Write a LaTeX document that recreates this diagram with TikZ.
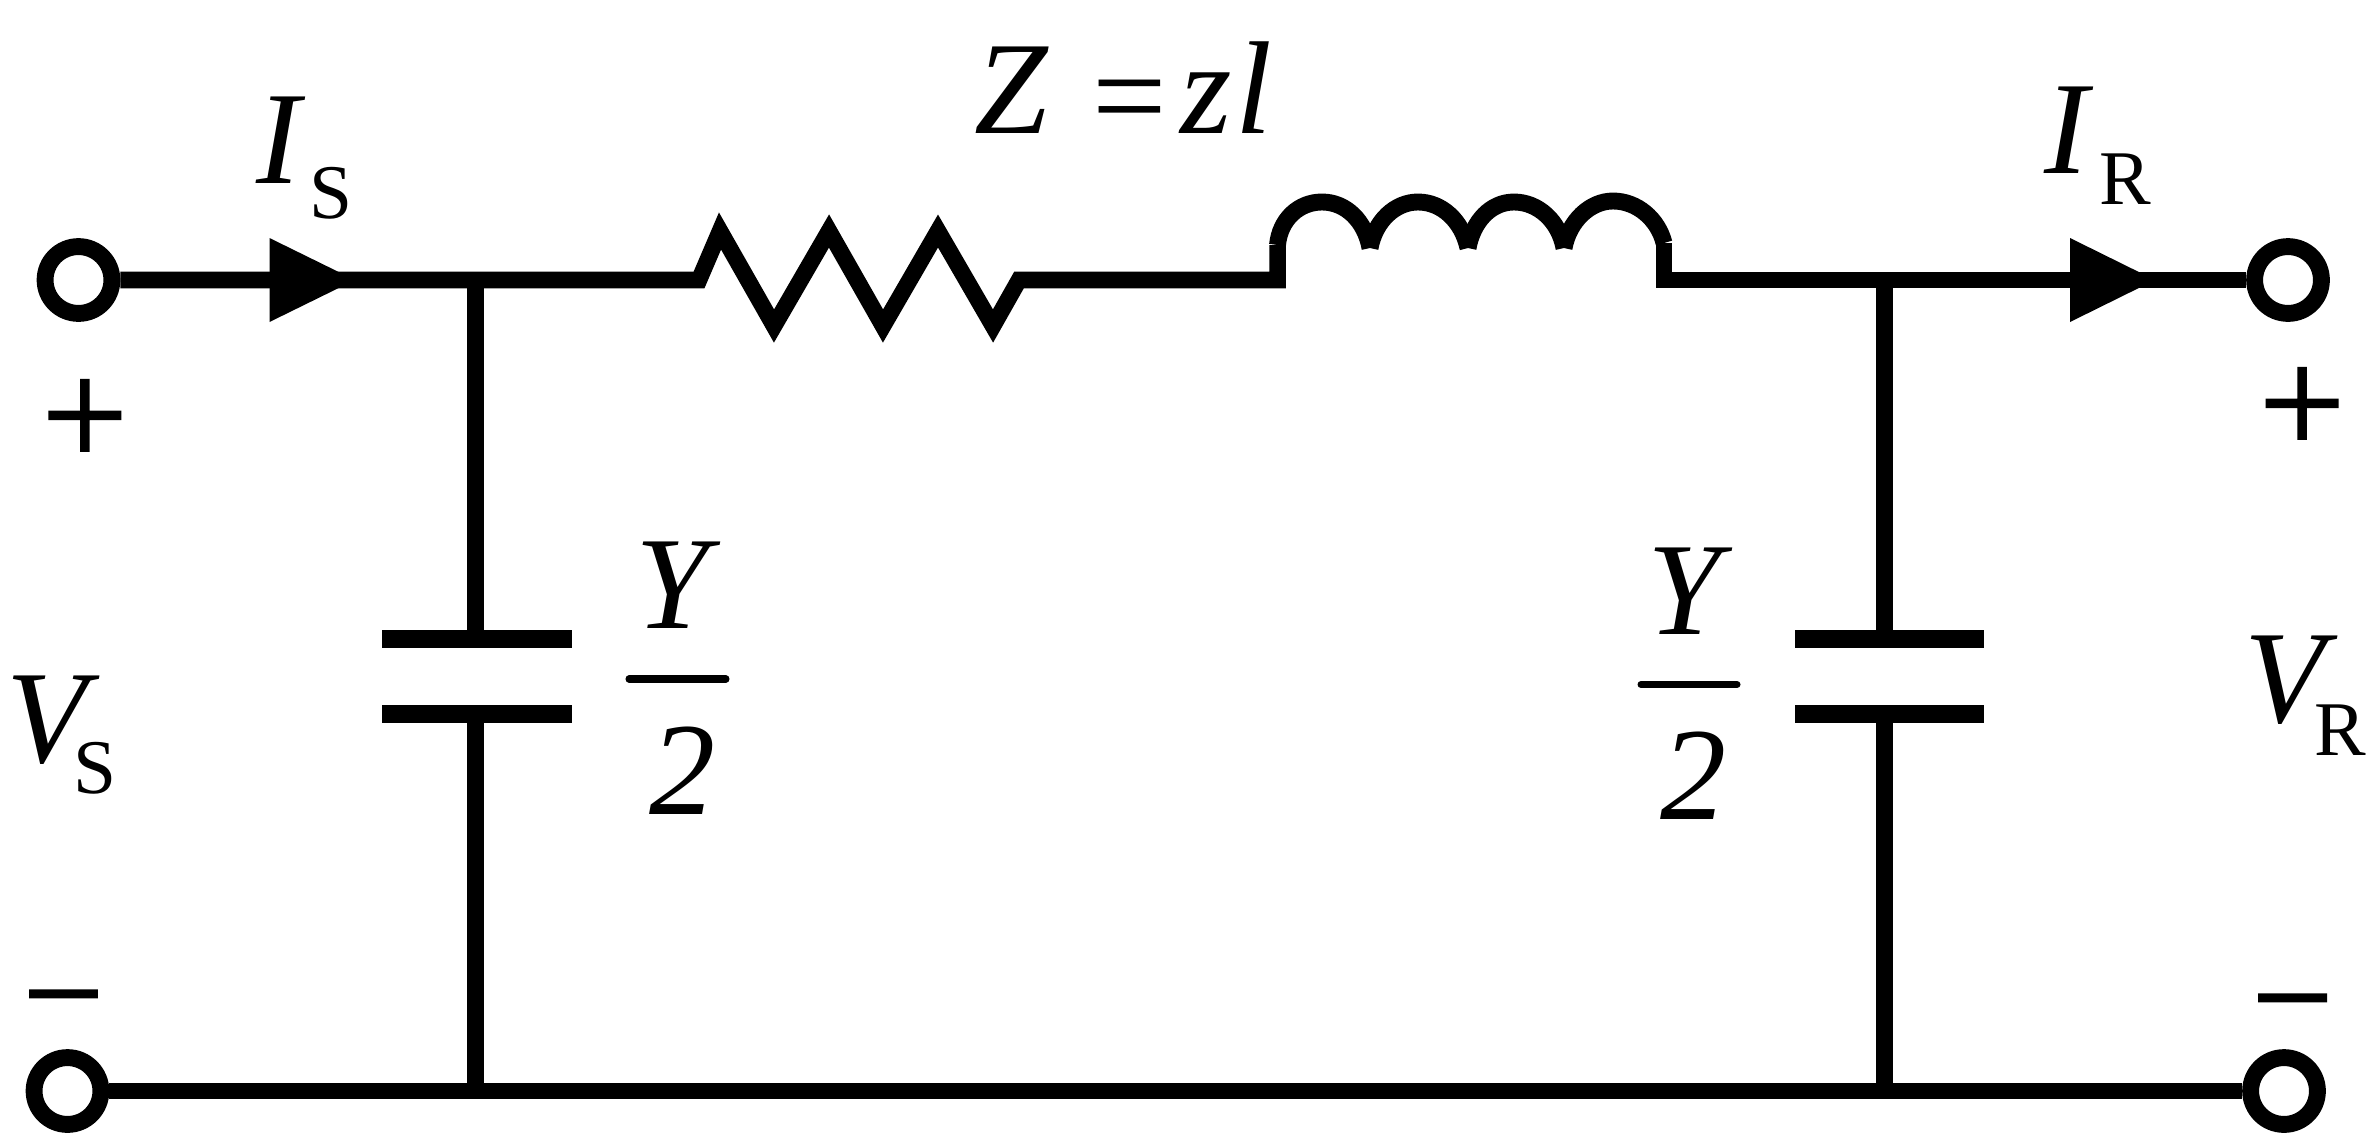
\documentclass[tikz,border=0pt]{standalone}
\usepackage{fontspec}
\setmainfont{Liberation Serif}
\newcommand{\mainf}{\fontsize{37.6}{40}\selectfont}
\newcommand{\subf}{\fontsize{22}{24}\selectfont}
\newcommand{\plusf}{\fontsize{43.5}{45}\selectfont\addfontfeatures{FakeBold=1.2}}
\newcommand{\minusf}{\fontsize{41}{43}\selectfont\addfontfeatures{FakeBold=1.2}}
\tikzset{
  wire/.style={line width=4.7pt,line cap=butt,line join=miter},
  plate/.style={line width=5pt,line cap=butt},
  coil/.style={line width=4.8pt,line cap=butt},
  fracbar/.style={line width=2pt,line cap=round},
  terminal/.style={circle,draw,line width=4.8pt,minimum size=19pt,inner sep=0pt,fill=white},
  lbl/.style={anchor=base west,inner sep=0pt,outer sep=0pt,font=\mainf},
  plussign/.style={anchor=center,inner sep=0pt,outer sep=0pt,font=\plusf},
  minussign/.style={anchor=center,inner sep=0pt,outer sep=0pt,font=\minusf}
}
\begin{document}
\begin{tikzpicture}[x=0.01cm,y=-0.01cm]
\useasboundingbox (0,0) rectangle (2367,1133);
% terminals
\node[terminal] (tl) at (78.5,280) {};
\node[terminal] (tr) at (2288,280) {};
\node[terminal] (bl) at (67.5,1091) {};
\node[terminal] (br) at (2284,1091) {};
% junctions and component ends
\coordinate (j1) at (475.5,280);
\coordinate (j2) at (1884.5,280);
\coordinate (b1) at (475.5,1091);
\coordinate (b2) at (1884.5,1091);
\coordinate (rin) at (699,280);
\coordinate (rout) at (1019,280);
\coordinate (lin) at (1277.5,245);
\coordinate (lout) at (1664,243);
% wires and resistor
\draw[wire] (tl.east) -- (rin) -- (720,231) -- (774,326) -- (829,231) -- (883,326) -- (938,231) -- (993,326) -- (rout) -- (1277.5,280) -- (lin);
\draw[wire] (lout) -- (1664,280) -- (tr.west);
\draw[wire] (bl.east) -- (br.west);
% inductor
\draw[coil] (lin) .. controls (1280,219) and (1299,202) .. (1322,202) .. controls (1346,202) and (1365,221) .. (1370,248);
\draw[coil] (1370,248) .. controls (1375,221) and (1395,202) .. (1418,202) .. controls (1442,202) and (1462,221) .. (1468,248);
\draw[coil] (1468,248) .. controls (1473,221) and (1491,202) .. (1514,202) .. controls (1538,202) and (1559,221) .. (1564,248);
\draw[coil] (1564,248) .. controls (1569,221) and (1590,201) .. (1613,201) .. controls (1637,201) and (1658,219) .. (lout);
% capacitors
\coordinate (c1a) at (475.5,639);
\coordinate (c1b) at (475.5,714);
\coordinate (c2a) at (1884.5,639);
\coordinate (c2b) at (1884.5,714);
\draw[wire] (j1) -- (c1a);
\draw[wire] (c1b) -- (b1);
\draw[wire] (j2) -- (c2a);
\draw[wire] (c2b) -- (b2);
\draw[plate] (382,639) -- (572,639);
\draw[plate] (382,714) -- (572,714);
\draw[plate] (1795,639) -- (1984,639);
\draw[plate] (1795,714) -- (1984,714);
% current arrows
\fill (269.5,238) -- (355,280) -- (269.5,322) -- cycle;
\fill (2070,238) -- (2155,280) -- (2070,322) -- cycle;
% labels
\node[lbl] (is) at (256,183) {\textit{I}\kern1.2pt\raisebox{-10.2pt}{\subf S}};
\node[lbl] (ir) at (2044,173) {\textit{I}\kern1.8pt\raisebox{-9pt}{\subf R}};
\node[lbl] (vs) at (7,762) {\textit{V}\kern-7.8pt\raisebox{-9pt}{\subf S}};
\node[lbl] (vr) at (2244,722) {\textit{V}\kern-6.5pt\raisebox{-9.4pt}{\subf R}};
\node[lbl] (z) at (974,133) {\textit{Z}\kern12.5pt\raisebox{-2pt}{=}\kern3.7pt\textit{z}\kern1pt\textit{l}};
\node[lbl] (y1) at (635,628) {\textit{Y}};
\node[lbl] (y2) at (1647,634) {\textit{Y}};
\node[lbl] (t1) at (649,814) {\textit{2}};
\node[lbl] (t2) at (1660,819) {\textit{2}};
\coordinate (fa1) at (629,679);
\coordinate (fb1) at (726,679);
\coordinate (fa2) at (1641,684.5);
\coordinate (fb2) at (1737,684.5);
\draw[fracbar] (fa1) -- (fb1);
\draw[fracbar] (fa2) -- (fb2);
\node[plussign] (p1) at (84.8,423) {+};
\node[plussign] (p2) at (2302,411) {+};
\node[minussign] (m1) at (63.5,1016) {−};
\node[minussign] (m2) at (2292.5,1020) {−};
\end{tikzpicture}
\end{document}
